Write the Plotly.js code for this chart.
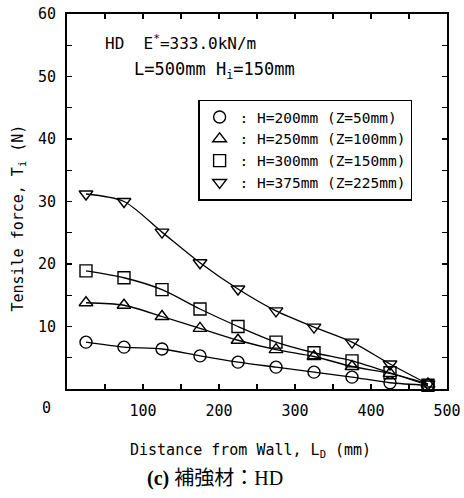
<!DOCTYPE html>
<html><head><meta charset="utf-8">
<script src="https://cdn.plot.ly/plotly-3.0.1.min.js"></script>
<style>html,body{margin:0;padding:0;background:#fff}</style>
</head><body><div id="chart" style="width:464px;height:498px"></div>
<script>
const distance = [25, 75, 125, 175, 225, 275, 325, 375, 425, 475];
const h200 = [7.5, 6.7, 6.4, 5.3, 4.3, 3.5, 2.7, 1.9, 1.0, 0.6];
const h250 = [13.8, 13.4, 11.6, 9.7, 7.8, 6.3, 5.2, 3.6, 2.5, 0.8];
const h300 = [18.9, 17.8, 15.9, 12.8, 10.0, 7.5, 5.8, 4.5, 2.6, 0.6];
const h375 = [31.2, 30.0, 25.1, 20.2, 16.0, 12.5, 9.9, 7.5, 4.0, 0.8];
const seriesNames = [': H=200mm (Z=50mm)', ': H=250mm (Z=100mm)', ': H=300mm (Z=150mm)', ': H=375mm (Z=225mm)'];
const symbols = ['circle-open', 'triangle-up-open', 'square-open', 'triangle-down-open'];
const xTicks = [100, 200, 300, 400, 500];
const yTicks = [10, 20, 30, 40, 50, 60];

const mono = 'DejaVu Sans Mono, monospace';
const all = [h200, h250, h300, h375];
const traces = [];
all.forEach((ys, i) => {
  traces.push({x: distance, y: ys, mode: 'lines', type: 'scatter', showlegend: false,
    line: {color: '#000', width: 1.3, shape: 'spline', smoothing: 0.8}, hoverinfo: 'skip'});
});
all.forEach((ys, i) => {
  traces.push({x: distance, y: ys, mode: 'markers', type: 'scatter', name: seriesNames[i],
    marker: {symbol: symbols[i], size: 12, color: '#000', line: {width: 1.4, color: '#000'}},
    cliponaxis: false});
});

const layout = {
  width: 464, height: 498,
  margin: {l: 67, r: 17, t: 14, b: 109},
  paper_bgcolor: '#fff', plot_bgcolor: '#fff',
  font: {family: mono, size: 14, color: '#000'},
  showlegend: true,
  legend: {x: 0.345, y: 0.772, xanchor: 'left', yanchor: 'top', bgcolor: '#fff',
    bordercolor: '#000', borderwidth: 1.5, font: {family: mono, size: 14.5, color: '#000'},
    itemwidth: 30, tracegroupgap: 0},
  xaxis: {range: [0, 500], tickvals: xTicks, ticktext: xTicks.map(String),
    ticks: 'inside', ticklen: 5, tickwidth: 1.2, tickcolor: '#000',
    minor: {dtick: 50, tick0: 0, ticks: 'inside', ticklen: 5, tickwidth: 1.2, tickcolor: '#000'},
    showline: true, linewidth: 2, linecolor: '#000', mirror: 'allticks',
    showgrid: false, zeroline: false, ticklabelstandoff: 7,
    tickfont: {family: mono, size: 15}},
  yaxis: {range: [0, 60], tickvals: yTicks, ticktext: yTicks.map(String),
    ticks: 'inside', ticklen: 5, tickwidth: 1.2, tickcolor: '#000',
    minor: {dtick: 5, tick0: 0, ticks: 'inside', ticklen: 5, tickwidth: 1.2, tickcolor: '#000'},
    showline: true, linewidth: 2, linecolor: '#000', mirror: 'allticks',
    showgrid: false, zeroline: false, ticklabelstandoff: 6,
    tickfont: {family: mono, size: 15}},
  annotations: [
    {xref: 'paper', yref: 'paper', x: -0.053, y: -0.05, text: '0', showarrow: false,
      xanchor: 'center', yanchor: 'middle', font: {family: mono, size: 15}},
    {xref: 'paper', yref: 'paper', x: 0.482, y: -0.163, text: 'Distance from Wall, L<sub>D</sub> (mm)', showarrow: false,
      xanchor: 'center', yanchor: 'middle', font: {family: mono, size: 15}},
    {xref: 'paper', yref: 'paper', x: -0.13, y: 0.456, text: 'Tensile force, T<sub>i</sub> (N)', showarrow: false,
      textangle: -90, xanchor: 'center', yanchor: 'middle', font: {family: mono, size: 15}},
    {xref: 'paper', yref: 'paper', x: 0.095, y: 0.925, text: 'HD  E<sup>*</sup>=333.0kN/m', showarrow: false,
      xanchor: 'left', yanchor: 'middle', font: {family: mono, size: 16}},
    {xref: 'paper', yref: 'paper', x: 0.17, y: 0.85, text: 'L=500mm H<sub>i</sub>=150mm', showarrow: false,
      xanchor: 'left', yanchor: 'middle', font: {family: mono, size: 17}},
    {xref: 'paper', yref: 'paper', x: 0.39, y: -0.238, text: '<b>(c)</b> 補強材：HD', showarrow: false,
      xanchor: 'center', yanchor: 'middle', font: {family: 'Liberation Serif, Noto Sans CJK JP, serif', size: 20}}
  ]
};
Plotly.newPlot('chart', traces, layout, {displayModeBar: false, staticPlot: true});
</script></body></html>
